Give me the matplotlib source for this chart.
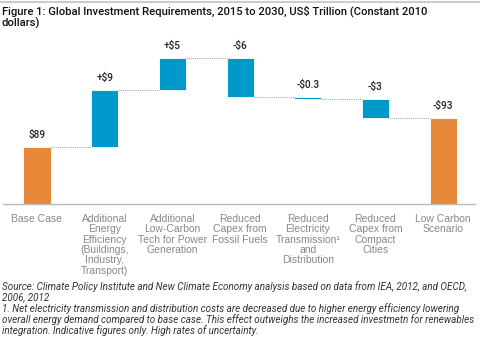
import matplotlib.pyplot as plt
import numpy as np

# categories and values (bar heights, chart is not to scale)
categories = ["Base Case",
              "Additional\nEnergy\nEfficiency\n(Buildings,\nIndustry,\nTransport)",
              "Additional\nLow-Carbon\nTech for Power\nGeneration",
              "Reduced\nCapex from\nFossil Fuels",
              "Reduced\nElectricity\nTransmission\u00b9\nand\nDistribution",
              "Reduced\nCapex from\nCompact\nCities",
              "Low Carbon\nScenario"]
value_labels = ["$89", "+$9", "+$5", "-$6", "-$0.3", "-$3", "-$93"]
base_height = 57
step_heights = [57, 32, -38.5, -2, -19]

orange = "#E8893A"
blue = "#0099CC"

fig = plt.figure(figsize=(4.8, 3.59), dpi=100)
ax = fig.add_axes([3 / 480, 1 - 204 / 359, 472 / 480, 164 / 359])

# build waterfall
bottoms = [0]
heights = [base_height]
level = base_height
for s in step_heights:
    bottoms.append(min(level, level + s))
    heights.append(abs(s))
    level += s
bottoms.append(0)
heights.append(level)
tops = [b + h for b, h in zip(bottoms, heights)]
colors = [orange] + [blue] * len(step_heights) + [orange]

x = np.arange(len(categories))
w = 0.4
ax.bar(x, heights, w, bottom=bottoms, color=colors, edgecolor="white", linewidth=0.6)

# dotted connectors
levels = np.cumsum([base_height] + step_heights)
for i, lv in enumerate(levels):
    ax.plot([x[i] + w / 2, x[i + 1] - w / 2], [lv, lv], ls=(0, (1, 1.2)), color="#999999", lw=0.7)

for i, lab in enumerate(value_labels):
    ax.annotate(lab, (x[i], tops[i]), xytext=(0, 5), textcoords="offset points",
                ha="center", va="bottom", fontsize=7.2, color="#222222", family="Roboto",
                fontweight="medium")

ax.set_xlim(-0.502, 6.47)
ax.set_ylim(0, 164)
ax.set_xticks(x)
ax.set_xticklabels(categories, fontsize=7.5, color="#888888", family="Liberation Sans", linespacing=1.05)
ax.tick_params(axis="x", length=0, pad=7)
ax.set_yticks([])
for sp in ["top", "left", "right"]:
    ax.spines[sp].set_visible(False)
ax.spines["bottom"].set_color("#BBBBBB")
ax.spines["bottom"].set_linewidth(1)

# top rule and title
fig.add_artist(plt.Line2D([0, 1], [1 - 1.5 / 359, 1 - 1.5 / 359], color="#CCCCCC", lw=1.5))
fig.text(2 / 480, 1 - 5 / 359,
         "Figure 1: Global Investment Requirements, 2015 to 2030, US$ Trillion (Constant 2010\ndollars)",
         ha="left", va="top", fontsize=8.1, family="Roboto", fontweight="medium", color="#111111",
         linespacing=1.05)

# footnotes
fig.text(2 / 480, 1 - 281 / 359,
         "Source: Climate Policy Institute and New Climate Economy analysis based on data from IEA, 2012, and OECD,\n2006, 2012",
         ha="left", va="top", fontsize=7.15, style="italic", family="Roboto", color="#333333", linespacing=1.0)
fig.text(2 / 480, 1 - 303 / 359,
         "1. Net electricity transmission and distribution costs are decreased due to higher energy efficiency lowering\n"
         "overall energy demand compared to base case. This effect outweighs the increased investmetn for renewables\n"
         "integration. Indicative figures only. High rates of uncertainty.",
         ha="left", va="top", fontsize=7.15, style="italic", family="Roboto", color="#333333", linespacing=1.0)

fig.savefig("out.png", dpi=100)
